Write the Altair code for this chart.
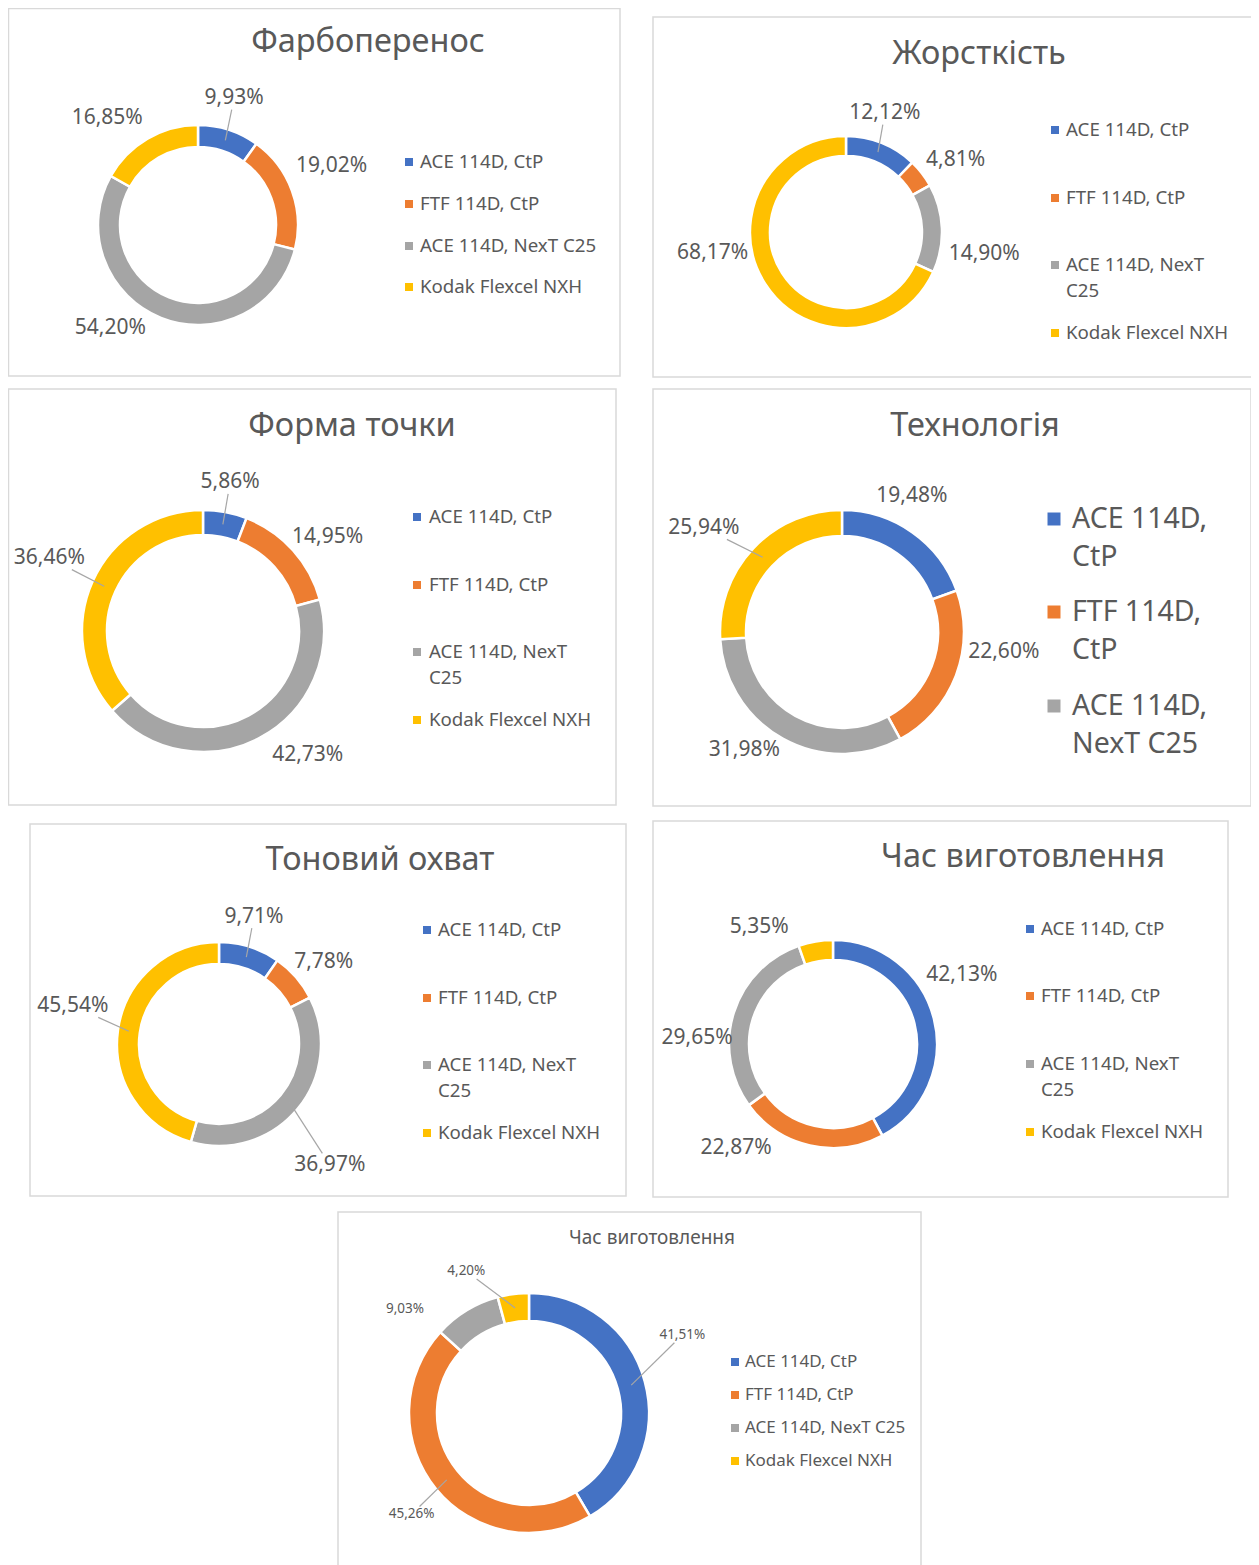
import altair as alt
import pandas as pd

# ---------------- data ----------------
CATEGORIES = ["ACE 114D, CtP", "FTF 114D, CtP", "ACE 114D, NexT C25", "Kodak Flexcel NXH"]
COLORS = ["#4472C4", "#ED7D31", "#A5A5A5", "#FFC000"]

TITLES = ["Фарбоперенос", "Жорсткість", "Форма точки", "Технологія",
          "Тоновий охват", "Час виготовлення", "Час виготовлення"]

V_FARB = [9.93, 19.02, 54.20, 16.85]
V_ZHORST = [12.12, 4.81, 14.90, 68.17]
V_FORMA = [5.86, 14.95, 42.73, 36.46]
V_TEKH = [19.48, 22.60, 31.98, 25.94]
V_TON = [9.71, 7.78, 36.97, 45.54]
V_CHAS = [42.13, 22.87, 29.65, 5.35]
V_CHAS2 = [41.51, 45.26, 9.03, 4.20]

SERIES = [V_FARB, V_ZHORST, V_FORMA, V_TEKH, V_TON, V_CHAS, V_CHAS2]

# ---------------- layout (page pixel coordinates) ----------------
OFF = 8
FONT = "Noto Sans"
TXT = "#595959"
LEADER = "#A6A6A6"

# per panel: box, title, donut geometry, label placement (angle nudge in degrees,
# radius in px, leader line flag), legend placement
PANELS = [
    dict(box=(6, 6, 620, 376), tx=368, ty=42, tfs=32.5, cx=198, cy=225, R=100, r=78, lfs=21,
         nudge=[-2, -3.8, 18.7, -10.1], lr=[132, 146, 135, 140], lead=[1, 0, 0, 0],
         sqx=409, lx=420, ly=[162, 204, 246, 287], lh=26, gfs=18.7, sq=64, wrap="none", n=4),
    dict(box=(653, 17, 1253, 377), tx=979, ty=54, tfs=32.5, cx=846, cy=232, R=96, r=76, lfs=21,
         nudge=[-3.7, 4.5, 11.3, 23.7], lr=[125, 131, 140, 135], lead=[1, 0, 0, 0],
         sqx=1055, lx=1066, ly=[130, 198, 265, 333], lh=26, gfs=18.7, sq=64, wrap="last", n=4),
    dict(box=(6, 389, 616, 805), tx=352, ty=426, tfs=32.5, cx=203, cy=631, R=121, r=96, lfs=21,
         nudge=[-0.2, 5, -12.1, 1.0], lr=[151, 156, 162, 170], lead=[1, 0, 0, 1],
         sqx=417, lx=429, ly=[517, 585, 652, 720], lh=26, gfs=18.7, sq=64, wrap="last", n=4),
    dict(box=(653, 389, 1251, 806), tx=975, ty=426, tfs=32.5, cx=842, cy=632, R=122, r=96, lfs=21,
         nudge=[-7.9, -13.8, 10.6, -6.3], lr=[153, 163, 153, 173], lead=[0, 0, 0, 1],
         sqx=1054, lx=1072, ly=[519, 612, 706], lh=38, gfs=28.5, sq=169, wrap="comma", n=3),
    dict(box=(30, 824, 626, 1196), tx=380, ty=860, tfs=32.5, cx=219, cy=1044, R=102, r=80, lfs=21,
         nudge=[-2.1, 3, 8, 6.6], lr=[132, 133, 164, 151], lead=[1, 0, 1, 1],
         sqx=427, lx=438, ly=[930, 998, 1065, 1133], lh=26, gfs=18.7, sq=64, wrap="last", n=4),
    dict(box=(653, 821, 1228, 1197), tx=1023, ty=857, tfs=32.5, cx=833, cy=1044, R=104, r=84, lfs=21,
         nudge=[-13.9, 30.2, -14.9, -22.7], lr=[146, 142, 136, 138], lead=[0, 0, 0, 0],
         sqx=1030, lx=1041, ly=[929, 996, 1064, 1132], lh=26, gfs=18.7, sq=64, wrap="last", n=4),
    dict(box=(338, 1212, 921, 1570), tx=652, ty=1238, tfs=19, cx=529, cy=1413, R=120, r=92, lfs=13.5,
         nudge=[-11.7, -1.7, -18.6, -16.3], lr=[172, 155, 162, 155], lead=[1, 1, 0, 1],
         sqx=735, lx=745, ly=[1362, 1395, 1428, 1461], lh=20, gfs=17, sq=64, wrap="none", n=4),
]


def wrap(cat, style, i):
    if style == "last" and i == 2:
        a, b = cat.rsplit(" ", 1)
        return [a, b]
    if style == "comma":
        k = cat.index(", ") + 1
        return [cat[:k], cat[k + 1:]]
    return [cat]


def pct(v):
    return f"{v:.2f}%".replace(".", ",")


color_scale = alt.Scale(domain=CATEGORIES, range=COLORS)

# borders
boxes = pd.DataFrame([dict(x=max(p["box"][0] - OFF, 0.5), x2=p["box"][2] - OFF,
                           y=max(p["box"][1] - OFF, 0.5), y2=p["box"][3] - OFF) for p in PANELS])
border_layer = alt.Chart(boxes).mark_rect(fill="white", stroke="#D9D9D9", strokeWidth=1.5).encode(
    x=alt.X("x:Q", scale=None, axis=None), x2="x2:Q",
    y=alt.Y("y:Q", scale=None, axis=None), y2="y2:Q",
)

# titles
tdf = pd.DataFrame([dict(x=p["tx"] - OFF, y=p["ty"] - OFF, t=TITLES[i], fs=p["tfs"])
                    for i, p in enumerate(PANELS)])
title_layer = alt.Chart(tdf).mark_text(font=FONT, color=TXT, align="center", baseline="middle").encode(
    x=alt.X("x:Q", scale=None, axis=None), y=alt.Y("y:Q", scale=None, axis=None),
    text="t:N", size=alt.Size("fs:Q", scale=None, legend=None),
)

# legends
sq_rows, lt_rows = [], []
for p in PANELS:
    for i in range(p["n"]):
        cat = CATEGORIES[i]
        y0 = p["ly"][i]
        sq_rows.append(dict(x=p["sqx"] - OFF, y=y0 - OFF, cat=cat, a=p["sq"]))
        for j, line in enumerate(wrap(cat, p["wrap"], i)):
            lt_rows.append(dict(x=p["lx"] - OFF, y=y0 + j * p["lh"] - OFF, t=line, fs=p["gfs"]))

sq_layer = alt.Chart(pd.DataFrame(sq_rows)).mark_square(opacity=1, filled=True).encode(
    x=alt.X("x:Q", scale=None, axis=None), y=alt.Y("y:Q", scale=None, axis=None),
    color=alt.Color("cat:N", scale=color_scale, legend=None),
    size=alt.Size("a:Q", scale=None, legend=None),
)
lt_layer = alt.Chart(pd.DataFrame(lt_rows)).mark_text(font=FONT, color=TXT, align="left", baseline="middle").encode(
    x=alt.X("x:Q", scale=None, axis=None), y=alt.Y("y:Q", scale=None, axis=None),
    text="t:N", size=alt.Size("fs:Q", scale=None, legend=None),
)

layers = [border_layer, title_layer, sq_layer, lt_layer]

for k, p in enumerate(PANELS):
    vals = SERIES[k]
    cx, cy = p["cx"] - OFF, p["cy"] - OFF
    rm = (p["R"] + p["r"]) / 2
    df = pd.DataFrame(dict(cat=CATEGORIES, value=vals, idx=list(range(4)),
                           label=[pct(v) for v in vals],
                           nudge=p["nudge"], lr=p["lr"], lead=p["lead"]))
    arc = alt.Chart(df).mark_arc(innerRadius=p["r"], outerRadius=p["R"], stroke="white", strokeWidth=2.5).encode(
        theta=alt.Theta("value:Q", stack=True),
        color=alt.Color("cat:N", scale=color_scale, legend=None),
        order=alt.Order("idx:Q"),
        x=alt.value(cx), y=alt.value(cy),
    )
    base = alt.Chart(df).transform_window(
        cum="sum(value)", sort=[alt.SortField("idx")]
    ).transform_joinaggregate(
        total="sum(value)"
    ).transform_calculate(
        mid="(datum.cum - datum.value / 2) / datum.total * 2 * PI",
    ).transform_calculate(
        ang=f"datum.mid + datum.nudge * PI / 180",
    ).transform_calculate(
        px=f"{cx} + datum.lr * sin(datum.ang)",
        py=f"{cy} - datum.lr * cos(datum.ang)",
        ex=f"{cx} + {rm} * sin(datum.mid)",
        ey=f"{cy} - {rm} * cos(datum.mid)",
        hw=f"length(datum.label) * {p['lfs']} * 0.29 + 2",
        hh=f"{p['lfs']} * 0.5 + 1",
    )
    lab = base.mark_text(font=FONT, fontSize=p["lfs"], color=TXT, align="center", baseline="middle").encode(
        x=alt.X("px:Q", scale=None, axis=None), y=alt.Y("py:Q", scale=None, axis=None),
        text="label:N",
    )
    lead = base.transform_filter("datum.lead == 1").transform_calculate(
        t="min(datum.hw / max(abs(datum.ex - datum.px), 0.001), datum.hh / max(abs(datum.ey - datum.py), 0.001))",
    ).transform_calculate(
        sx="datum.px + datum.t * (datum.ex - datum.px)",
        sy="datum.py + datum.t * (datum.ey - datum.py)",
    ).mark_rule(color=LEADER, strokeWidth=1.2).encode(
        x=alt.X("sx:Q", scale=None, axis=None), y=alt.Y("sy:Q", scale=None, axis=None),
        x2="ex:Q", y2="ey:Q",
    )
    layers += [arc, lead, lab]

chart = alt.layer(*layers).resolve_scale(theta="independent").properties(
    width=1243, height=1557, padding=0, autosize="none", background="white",
).configure_view(stroke=None)

chart.save("out.html", embed_options={"renderer": "svg", "actions": False})
